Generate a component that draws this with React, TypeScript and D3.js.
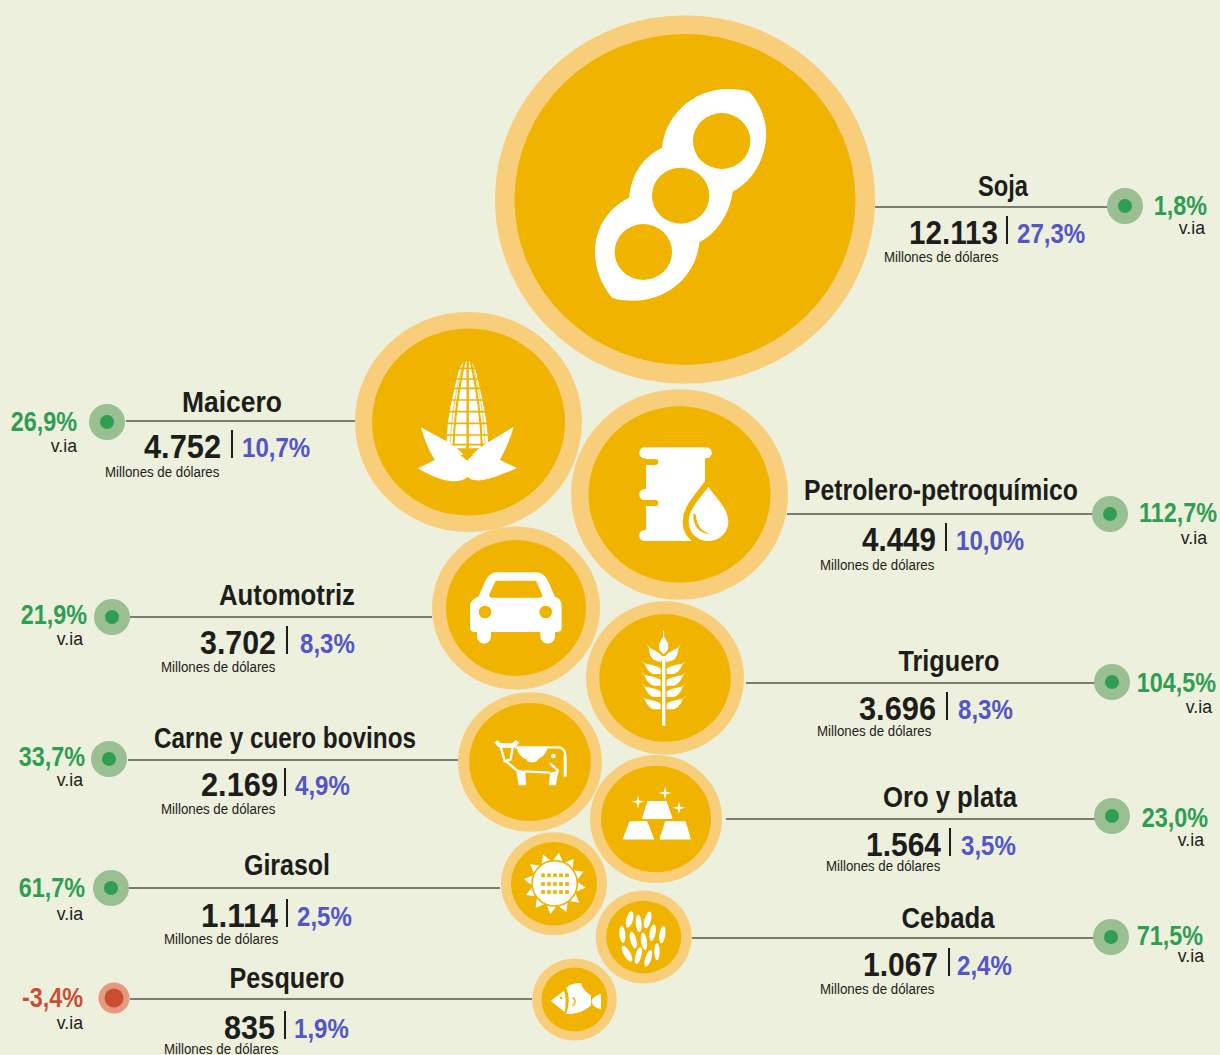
import * as d3 from "d3";

const sectors = ["Soja", "Maicero", "Petrolero-petroquímico", "Automotriz", "Triguero", "Carne y cuero bovinos", "Oro y plata", "Girasol", "Cebada", "Pesquero"];
const values = [12113, 4752, 4449, 3702, 3696, 2169, 1564, 1114, 1067, 835];
const valueLabels = ["12.113", "4.752", "4.449", "3.702", "3.696", "2.169", "1.564", "1.114", "1.067", "835"];
const shares = ["27,3%", "10,7%", "10,0%", "8,3%", "8,3%", "4,9%", "3,5%", "2,5%", "2,4%", "1,9%"];
const changes = [1.8, 26.9, 112.7, 21.9, 104.5, 33.7, 23.0, 61.7, 71.5, -3.4];

const width = 1220;
const height = 1055;
const squash = 0.97;

// the bubbles in the original are not strictly proportional, so the scale is fitted by hand
const sortedValues = [835, 1067, 1114, 1564, 2169, 3696, 3702, 4449, 4752, 12113];
const outerScale = d3.scaleLinear().domain(sortedValues).range([42.3, 48, 53, 66, 72, 79, 84, 108.5, 113.5, 190]);
const innerScale = d3.scaleLinear().domain(sortedValues).range([33, 37.5, 43, 55, 60.8, 65.7, 70, 91, 96.5, 170.5]);

const centers = [[685, 199.5], [468.5, 422], [679.5, 494.5], [516, 608], [665, 678], [530, 762], [656, 819], [554, 883.7], [643.7, 937], [574.5, 999.5]];
// lineY, lineFrom, lineTo, dotX, dotY, nameX, nameY, valueEnd, valueY, sepX, shareX, subX, subY, changeEnd, changeY, viaEnd, viaY
const layout = [
  [207, 875, 1110, 1125, 206, 1003, 196, 998, 244, 1007, 1017, 884, 262, 1207, 215, 1205, 234],
  [421, 126, 355, 107, 422, 232, 412, 221, 458, 232, 242, 105, 477, 77, 431, 77, 452],
  [514, 787, 1093, 1110, 514, 941, 500, 936, 551, 946, 956, 820, 570, 1217, 522, 1207, 544],
  [617, 130, 432, 112, 617, 287, 605, 276, 654, 287, 300, 161, 672, 87, 624, 83, 645],
  [683, 746, 1097, 1112, 682, 949, 671, 936, 720, 947, 958, 817, 736, 1216, 692, 1212, 713],
  [760, 128, 458, 109, 759, 285, 748, 278, 796, 285, 295, 161, 814, 85, 766, 83, 786],
  [819, 726, 1097, 1112, 816, 950, 807, 941, 856, 950, 961, 826, 871, 1208, 827, 1204, 846],
  [888, 129, 500, 111, 888, 287, 875, 278, 927, 287, 297, 164, 944, 85, 897, 83, 920],
  [938, 692, 1097, 1111, 937, 948, 928, 938, 976, 949, 957, 820, 994, 1203, 945, 1204, 962],
  [999, 130, 532, 114, 998, 287, 988, 275, 1039, 285, 294, 164, 1054, 83, 1007, 83, 1029],
];
// rendered widths of the condensed headings and totals in the original
const nameWidths = [50, 100, 274, 136, 101, 262, 134, 86, 93, 115];
const valueWidths = [89, 77, 74, 76, 77, 77, 75, 77, 75, 51];

const BG = "#edf0dd";
const RING = "#f8ce7a";
const GOLD = "#efb300";
const INK = "#1d1d1b";
const BLUE = "#5356c8";

// no condensed face is installed, so text is squeezed horizontally
function Label({ x, y, sx, anchor = "start", size, bold = false, fill = INK, children }: any) {
  return (
    <text transform={`translate(${x},${y}) scale(${sx},1)`} textAnchor={anchor} fontSize={size} fontWeight={bold ? 700 : 400} fill={fill}>
      {children}
    </text>
  );
}

// icons are traced in 3x crop coordinates, hence the translate + scale(1/3)
function Crop({ x, y, children }: any) {
  return <g transform={`translate(${x},${y}) scale(${1 / 3})`}>{children}</g>;
}

function SoyIcon() {
  return (
    <Crop x={560} y={60}>
      <path
        fill="#fff"
        d="M568,95 C605,135 622,190 618,235 C612,310 570,368 518,395 C510,460 470,520 418,547 C410,640 330,722 220,722 C195,722 175,720 157,714 C120,670 105,620 105,575 C105,500 150,440 207,413 C215,340 250,290 306,263 C315,170 395,87 505,87 C530,87 550,90 568,95 Z"
      />
      <ellipse cx={485} cy={243} rx={86} ry={84} fill={GOLD} />
      <ellipse cx={362} cy={407} rx={86} ry={84} fill={GOLD} />
      <ellipse cx={250} cy={576} rx={86} ry={84} fill={GOLD} />
    </Crop>
  );
}

function CornIcon() {
  const rows = [55, 87, 115, 150, 185, 220, 255, 284];
  return (
    <Crop x={400} y={350}>
      <path fill="#fff" d="M203,32 C218,32 226,50 235,95 C250,160 266,230 264,295 L140,295 C138,230 152,160 168,95 C177,50 188,32 203,32 Z" />
      {rows.map(r => <line key={r} x1={120} x2={285} y1={r} y2={r} stroke={GOLD} strokeWidth={5} />)}
      <line x1={203} x2={203} y1={28} y2={320} stroke={GOLD} strokeWidth={7} />
      {[-1, 1].map(s => (
        <g key={s}>
          <path fill="none" stroke={GOLD} strokeWidth={6} d={`M${203 + s * 8},28 C${203 + s * 22},90 ${203 + s * 40},190 ${203 + s * 43},300`} />
          <path fill="none" stroke={GOLD} strokeWidth={2} d={`M${203 + s * 16},50 C${203 + s * 30},100 ${203 + s * 50},190 ${203 + s * 53},300`} />
        </g>
      ))}
      <path fill="#fff" d="M63,232 L150,280 C175,295 192,315 203,332 C215,315 235,295 260,280 L341,230 C330,270 315,300 300,330 L351,354 C320,368 280,385 245,391 C225,393 210,388 203,380 C195,388 180,395 155,394 C115,390 85,372 53,355 L105,330 C85,300 72,265 63,232 Z" />
      <path fill={GOLD} d="M180,315 L220,315 L200,330 Z" />
      <rect x={197} y={290} width={6} height={30} fill={GOLD} />
    </Crop>
  );
}

function BarrelIcon() {
  const drop = "M925,410 C905,440 866,475 866,515 C866,550 895,573 925,573 C955,573 985,550 985,515 C985,475 945,440 925,410 Z";
  return (
    <Crop x={400} y={350}>
      <path
        fill="#fff"
        d="M734,292 L919,292 A16,16 0 0 1 919,325 L915,325 L915,573 L734,573 A16.5,16.5 0 0 1 734,540 L738,540 L738,450 L734,450 A16.5,16.5 0 0 1 734,417 L738,417 L738,325 L734,325 A16.5,16.5 0 0 1 734,292 Z"
      />
      <path fill={GOLD} d="M700,327 L766,327 A9,9 0 0 1 766,345 L700,345 Z" />
      <path fill={GOLD} d="M700,450 L766,450 A9,9 0 0 1 766,468 L700,468 Z" />
      <path d={drop} fill={GOLD} stroke={GOLD} strokeWidth={36} strokeLinejoin="round" />
      <rect x={880} y={574} width={120} height={40} fill={GOLD} />
      <path d={drop} fill="#fff" />
      <path d="M880,490 C878,525 895,552 933,553 C905,545 888,525 888,495 Z" fill={GOLD} />
    </Crop>
  );
}

function CarIcon() {
  return (
    <Crop x={450} y={560}>
      <path fill="#fff" d="M60,140 C60,125 70,115 85,110 L105,65 C115,45 125,37 145,37 L255,37 C275,37 285,45 295,65 L315,110 C330,115 335,125 335,140 L335,205 C335,212 330,216 320,216 L315,216 L315,230 A22,21 0 0 1 271,230 L271,216 L123,216 L123,230 A21,21 0 0 1 81,230 L81,216 L75,216 C65,216 60,212 60,205 Z" />
      <path fill={GOLD} d="M140,62 L258,62 L277,105 C278,111 272,113 268,113 L128,113 C120,113 116,108 118,103 L135,66 Z" />
      <circle cx={105} cy={156} r={19} fill={GOLD} />
      <circle cx={287} cy={156} r={19} fill={GOLD} />
    </Crop>
  );
}

function WheatIcon() {
  const grains = [[632, 448, 0], [632, 411, 0], [632, 377, 0], [632, 342, 0], [633, 307, 18]];
  const grain = "M0,0 L-22,0 C-35,-5 -44,-18 -48,-30 L-60,-41 L-46,-31 C-30,-28 -10,-26 0,-16 Z";
  return (
    <Crop x={450} y={560}>
      <rect x={636} y={288} width={10} height={209} fill="#fff" />
      <path fill="#fff" d="M641,229 C650,240 656,250 655,262 C654,272 648,278 641,282 C634,278 628,272 627,262 C626,250 632,240 641,229 Z" />
      <rect x={639.5} y={212} width={3} height={20} fill="#fff" />
      {grains.map(([x, y, a], i) => (
        <g key={i}>
          <path fill="#fff" transform={`translate(${x},${y}) rotate(${a})`} d={grain} />
          <path fill="#fff" transform={`translate(${1282 - x},${y}) scale(-1,1) rotate(${a})`} d={grain} />
        </g>
      ))}
    </Crop>
  );
}

function CowIcon() {
  return (
    <Crop x={490} y={730}>
      <path fill="#fff" d="M12,38 L22,30 L32,40 L66,40 L78,30 L88,38 L76,52 L26,52 Z" />
      <g fill="none" stroke="#fff" strokeWidth={7} strokeLinejoin="miter">
        <path d="M32,50 L68,50 L62,88 L44,94 Z" />
        <path d="M46,92 L84,124" />
        <path d="M75,52 L205,52 C222,52 226,64 226,80" />
        <path d="M103,124 L180,128" />
        <path d="M180,100 L204,122 L190,160" />
      </g>
      <path fill="#fff" d="M82,50 L172,50 C172,65 162,78 148,85 C135,103 115,100 108,88 C92,80 80,68 82,50 Z" />
      <circle cx={190} cy={78} r={7} fill="#fff" />
      <path fill="#fff" d="M78,118 L106,124 L108,166 L86,166 Z" />
      <path fill="#fff" d="M180,128 L205,122 L198,166 L177,166 Z" />
      <rect x={221} y={78} width={9} height={62} fill="#fff" />
    </Crop>
  );
}

function GoldIcon() {
  const bars = [[622.7, 630, 646.7, 654.3, 821, 839.7], [659.3, 665.7, 685, 691, 821, 839.7], [641.7, 648, 666, 672.7, 800.7, 819.3]];
  const stars = [[638, 801.7, 6.5], [665, 793, 6.5], [679, 807.7, 6.5]];
  return (
    <g fill="#fff">
      {bars.map(([a, b, c, d, t, u], i) => (
        <path key={i} stroke="#fff" strokeWidth={1.5} strokeLinejoin="round" d={`M${a + 1},${u - 1} L${b},${t + 1} L${c},${t + 1} L${d - 1},${u - 1} Z`} />
      ))}
      {stars.map(([x, y, r], i) => (
        <path key={i} d={`M${x},${y - r} L${x + 1.2},${y - 1.2} L${x + r},${y} L${x + 1.2},${y + 1.2} L${x},${y + r} L${x - 1.2},${y + 1.2} L${x - r},${y} L${x - 1.2},${y - 1.2} Z`} />
      ))}
    </g>
  );
}

function SunIcon() {
  const cx = 194;
  const cy = 190;
  const teeth = d3.range(24).map(i => {
    const a = (i / 24) * 2 * Math.PI;
    const r = i % 2 === 0 ? 93 : 66;
    return [a, r] as [number, number];
  });
  const star = d3.lineRadial().curve(d3.curveLinearClosed)(teeth) as string;
  const gx = [159, 177, 195, 213, 231];
  const gy = [166, 192, 216];
  return (
    <Crop x={490} y={820}>
      <path d={star} fill="#fff" transform={`translate(${cx},${cy}) rotate(8)`} />
      <circle cx={cx} cy={cy} r={68} fill="#fff" stroke={GOLD} strokeWidth={5} />
      {gy.map(y => gx.map(x => <rect key={`${x}-${y}`} x={x - 5.5} y={y - 5.5} width={11} height={11} fill={GOLD} />))}
    </Crop>
  );
}

function BarleyIcon() {
  const seeds = [
    [419, 298, 10, 25, 15], [446, 310, 9, 26, -5], [473, 300, 10, 26, 15], [397, 343, 9, 26, -5],
    [430, 360, 9, 26, -15], [488, 338, 9, 25, 10], [462, 364, 9, 26, -8], [517, 344, 9, 26, 8],
    [411, 401, 10, 27, -30], [445, 407, 9, 26, 15], [475, 415, 9, 26, 18], [501, 395, 8, 26, 0],
  ];
  return (
    <Crop x={490} y={820}>
      {seeds.map(([x, y, a, b, r], i) => (
        <ellipse key={i} cx={x} cy={y} rx={a} ry={b} fill="#fff" transform={`rotate(${r} ${x} ${y})`} />
      ))}
    </Crop>
  );
}

function FishIcon() {
  return (
    <Crop x={490} y={820}>
      <path fill="#fff" d="M182,543 L222,512 C228,530 228,555 224,576 Z" />
      <circle cx={213} cy={534} r={4} fill={GOLD} />
      <path fill="#fff" d="M228,503 C240,492 258,488 275,490 C273,500 285,513 303,527 L303,555 C285,575 255,583 228,582 C238,560 240,525 228,503 Z" />
      <path fill="none" stroke={GOLD} strokeWidth={4} d="M247,533 C258,538 258,552 247,557" />
      <path fill="#fff" d="M333,522 L333,567 C318,565 305,555 305,545 C305,535 318,525 333,522 Z" />
    </Crop>
  );
}

const icons = [SoyIcon, CornIcon, BarrelIcon, CarIcon, WheatIcon, CowIcon, GoldIcon, SunIcon, BarleyIcon, FishIcon];

const fmtChange = (v: number) => `${d3.format(".1f")(v).replace(".", ",").replace("−", "-")}%`;

export default function App() {
  return (
    <svg
      width={width}
      height={height}
      viewBox={`0 0 ${width} ${height}`}
      style={{ position: "absolute", left: 0, top: 0, background: BG }}
      fontFamily="'Liberation Sans', sans-serif"
    >
      <rect width={width} height={height} fill={BG} />
      {sectors.map((name, i) => {
        const [lineY, lineFrom, lineTo, dotX, dotY, nameX, nameY, valueEnd, valueY, sepX, shareX, subX, subY, changeEnd, changeY, viaEnd, viaY] = layout[i];
        const up = changes[i] >= 0;
        return (
          <g key={name}>
            <line x1={lineFrom} x2={lineTo} y1={lineY} y2={lineY} stroke="#55574b" strokeWidth={1.3} />
            <circle cx={dotX} cy={dotY} r={up ? 18 : 15.5} fill={up ? "#9abf92" : "#e59a80"} />
            <circle cx={dotX} cy={dotY} r={up ? 7 : 9.5} fill={up ? "#2f9e52" : "#cc4e32"} />
            <text x={nameX} y={nameY} textAnchor="middle" fontSize={29} fontWeight={700} fill={INK} textLength={nameWidths[i]} lengthAdjust="spacingAndGlyphs">{name}</text>
            <text x={valueEnd} y={valueY} textAnchor="end" fontSize={33} fontWeight={700} fill={INK} textLength={valueWidths[i]} lengthAdjust="spacingAndGlyphs">{valueLabels[i]}</text>
            <line x1={sepX} x2={sepX} y1={valueY - 28} y2={valueY} stroke={INK} strokeWidth={2} />
            <Label x={shareX} y={valueY - 1} sx={0.86} size={28} bold fill={BLUE}>{shares[i]}</Label>
            <Label x={subX} y={subY} sx={0.857} size={15.5}>Millones de dólares</Label>
            <Label x={changeEnd} y={changeY} sx={0.867} anchor="end" size={27} bold fill={up ? "#2f9e52" : "#cc4e32"}>{fmtChange(changes[i])}</Label>
            <Label x={viaEnd} y={viaY} sx={0.93} anchor="end" size={19}>v.ia</Label>
          </g>
        );
      })}
      {sectors.map((name, i) => {
        const [cx, cy] = centers[i];
        const R = outerScale(values[i]);
        const r = innerScale(values[i]);
        const Icon = icons[i];
        return (
          <g key={name}>
            <ellipse cx={cx} cy={cy} rx={R} ry={R * squash} fill={RING} />
            <ellipse cx={cx} cy={cy} rx={r} ry={r * squash} fill={GOLD} />
            <Icon />
          </g>
        );
      })}
    </svg>
  );
}
